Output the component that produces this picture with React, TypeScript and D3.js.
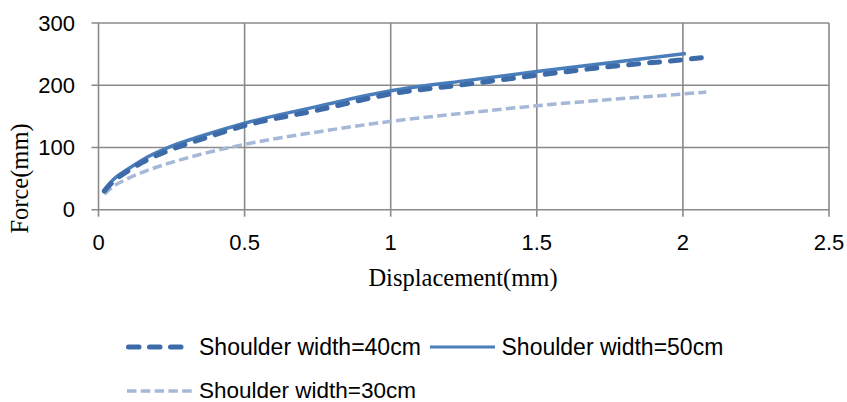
import React from "react";
import * as d3 from "d3";

const xTicks = [0, 0.5, 1, 1.5, 2, 2.5];
const yTicks = [0, 100, 200, 300];

const disp40 = [0.02, 0.05, 0.1, 0.15, 0.25, 0.35, 0.5, 0.75, 1.0, 1.25, 1.5, 1.75, 2.0, 2.08];
const force40 = [30, 45, 62, 76, 97, 113, 135, 160, 186, 201, 216, 230, 241, 245];

const disp50 = [0.02, 0.05, 0.1, 0.15, 0.25, 0.35, 0.5, 0.75, 1.0, 1.25, 1.5, 1.75, 2.01];
const force50 = [32, 48, 65, 80, 102, 118, 139, 166, 191, 207, 222, 236, 251];

const disp30 = [0.02, 0.05, 0.1, 0.15, 0.25, 0.35, 0.5, 0.75, 1.0, 1.25, 1.5, 1.75, 2.0, 2.08];
const force30 = [25, 37, 50, 60, 76, 89, 105, 125, 142, 155, 167, 177, 186, 189];

const seriesNames = ["Shoulder width=40cm", "Shoulder width=50cm", "Shoulder width=30cm"];

const W = 847;
const H = 402;

export default function App() {
  const x = d3.scaleLinear().domain([0, 2.5]).range([98.5, 829]);
  const y = d3.scaleLinear().domain([0, 300]).range([209.7, 23]);
  const line = d3
    .line<[number, number]>()
    .x((d) => x(d[0]))
    .y((d) => y(d[1]))
    .curve(d3.curveMonotoneX);

  const zip = (a: number[], b: number[]) => a.map((v, i) => [v, b[i]] as [number, number]);

  const sans = "'Liberation Sans', Arial, sans-serif";
  const serif = "'Liberation Serif', 'Times New Roman', serif";
  const grid = "#8a8a8a";

  const c40 = "#3d6aa8";
  const c50 = "#4a7ebb";
  const c30 = "#a6b8d8";

  return (
    <svg
      width={W}
      height={H}
      style={{ position: "absolute", left: 0, top: 0, background: "#fff" }}
    >
      {/* grid */}
      {yTicks.map((t) => (
        <line key={"gy" + t} x1={x(0) - 7} x2={x(2.5)} y1={y(t)} y2={y(t)} stroke={grid} strokeWidth={1.6} />
      ))}
      {xTicks.map((t) => (
        <line key={"gx" + t} x1={x(t)} x2={x(t)} y1={y(300)} y2={y(0) + 7} stroke={grid} strokeWidth={1.6} />
      ))}
      {/* tick labels */}
      {yTicks.map((t) => (
        <text key={"ly" + t} x={75} y={y(t) + 7.5} textAnchor="end" fontFamily={sans} fontSize={22} fill="#000">
          {t}
        </text>
      ))}
      {xTicks.map((t) => (
        <text key={"lx" + t} x={x(t)} y={250} textAnchor="middle" fontFamily={sans} fontSize={22} fill="#000">
          {d3.format("~g")(t)}
        </text>
      ))}
      {/* axis titles */}
      <text x={463} y={286} textAnchor="middle" fontFamily={serif} fontSize={24.5} fill="#000">
        Displacement(mm)
      </text>
      <text
        transform={`translate(28,${178.5}) rotate(-90)`}
        textAnchor="middle"
        fontFamily={serif}
        fontSize={24.5}
        fill="#000"
      >
        Force(mm)
      </text>
      {/* series */}
      <path d={line(zip(disp30, force30)) || ""} fill="none" stroke={c30} strokeWidth={3.5} strokeDasharray="9.5 4.3" />
      <path d={line(zip(disp50, force50)) || ""} fill="none" stroke={c50} strokeWidth={3.5} />
      <path
        d={line(zip(disp40, force40)) || ""}
        fill="none"
        stroke={c40}
        strokeWidth={5}
        strokeDasharray="10 11"
        strokeLinecap="round"
      />
      {/* legend */}
      <line x1={128.5} x2={181.5} y1={347} y2={347} stroke={c40} strokeWidth={5} strokeDasharray="10.5 10.5" strokeLinecap="round" />
      <text x={199} y={354.5} fontFamily={sans} fontSize={23} fill="#000">
        {seriesNames[0]}
      </text>
      <line x1={430} x2={495} y1={347} y2={347} stroke={c50} strokeWidth={3} />
      <text x={501.5} y={354.5} fontFamily={sans} fontSize={23} fill="#000">
        {seriesNames[1]}
      </text>
      <line x1={127} x2={192} y1={391} y2={391} stroke={c30} strokeWidth={3.5} strokeDasharray="9.5 4.3" />
      <text x={199} y={397.5} fontFamily={sans} fontSize={22.5} fill="#000">
        {seriesNames[2]}
      </text>
    </svg>
  );
}
